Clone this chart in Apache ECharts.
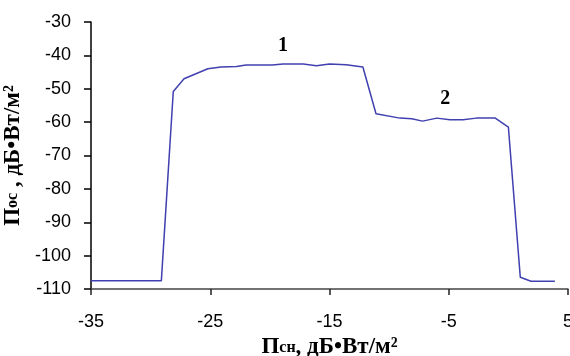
<!DOCTYPE html>
<html><head><meta charset="utf-8">
<script src="https://cdn.jsdelivr.net/npm/echarts@6/dist/echarts.min.js"></script>
<style>html,body{margin:0;padding:0;background:#fff}#c{width:570px;height:356px}</style>
</head><body><div id="c"></div>
<script>
const xValues = [-35, -29.1, -28.1, -27.2, -25.2, -24.1, -22.8, -22, -19.8, -18.9, -17.2, -16.1, -15, -13.6, -12.2, -11.1, -9.1, -8.1, -7.2, -6.0, -4.9, -3.8, -2.7, -1.1, 0, 1.0, 1.9, 3.9];
const yValues = [-107.5, -107.5, -50.8, -47.0, -44.0, -43.5, -43.3, -42.9, -42.9, -42.6, -42.6, -43.1, -42.6, -42.8, -43.5, -57.5, -58.8, -59.0, -59.7, -58.8, -59.3, -59.3, -58.8, -58.8, -61.5, -106.5, -107.7, -107.7];
const labels = [{name: '1', coord: [-18.9, -37]}, {name: '2', coord: [-5.3, -53]}];
const data = xValues.map((x, i) => [x, yValues[i]]);
const chart = echarts.init(document.getElementById('c'));
const nameRich = {
  b: {fontFamily: 'Liberation Serif', fontWeight: 'bold', fontSize: 23, color: '#000'},
  s: {fontFamily: 'Liberation Serif', fontWeight: 'bold', fontSize: 16, color: '#000'}
};
chart.setOption({
  animation: false,
  grid: {left: 91, right: 2, top: 22, bottom: 67, containLabel: false, outerBoundsMode: 'none'},
  xAxis: {
    type: 'value', min: -35, max: 5, interval: 10,
    splitLine: {show: false},
    axisLine: {show: true, onZero: false, lineStyle: {color: '#444', width: 1.5}},
    axisTick: {show: true, length: 6, lineStyle: {color: '#222', width: 1.5}},
    axisLabel: {color: '#000', fontSize: 18, fontFamily: 'Liberation Sans', margin: 24},
    name: '{b|П}{s|сн}{b|, дБ•Вт/м²}', nameLocation: 'middle', nameGap: 44,
    nameTextStyle: {rich: nameRich}
  },
  yAxis: {
    type: 'value', min: -110, max: -30, interval: 10,
    splitLine: {show: false},
    axisLine: {show: true, onZero: false, lineStyle: {color: '#000', width: 1.5}},
    axisTick: {show: true, length: 7, lineStyle: {color: '#000', width: 1.5}},
    axisLabel: {color: '#000', fontSize: 18, fontFamily: 'Liberation Sans', margin: 20},
    name: '{b|П}{s|ос}{b| , дБ•Вт/м²}', nameLocation: 'middle', nameGap: 66,
    nameTextStyle: {rich: nameRich}
  },
  series: [{
    type: 'line', data: data, showSymbol: false, symbol: 'none',
    lineStyle: {color: '#4040b0', width: 1.5},
    markPoint: {
      symbol: 'circle', symbolSize: 1, itemStyle: {color: 'rgba(0,0,0,0)'},
      label: {show: true, formatter: '{b}', color: '#000', fontFamily: 'Liberation Serif', fontWeight: 'bold', fontSize: 20},
      data: labels
    }
  }]
});
</script></body></html>
